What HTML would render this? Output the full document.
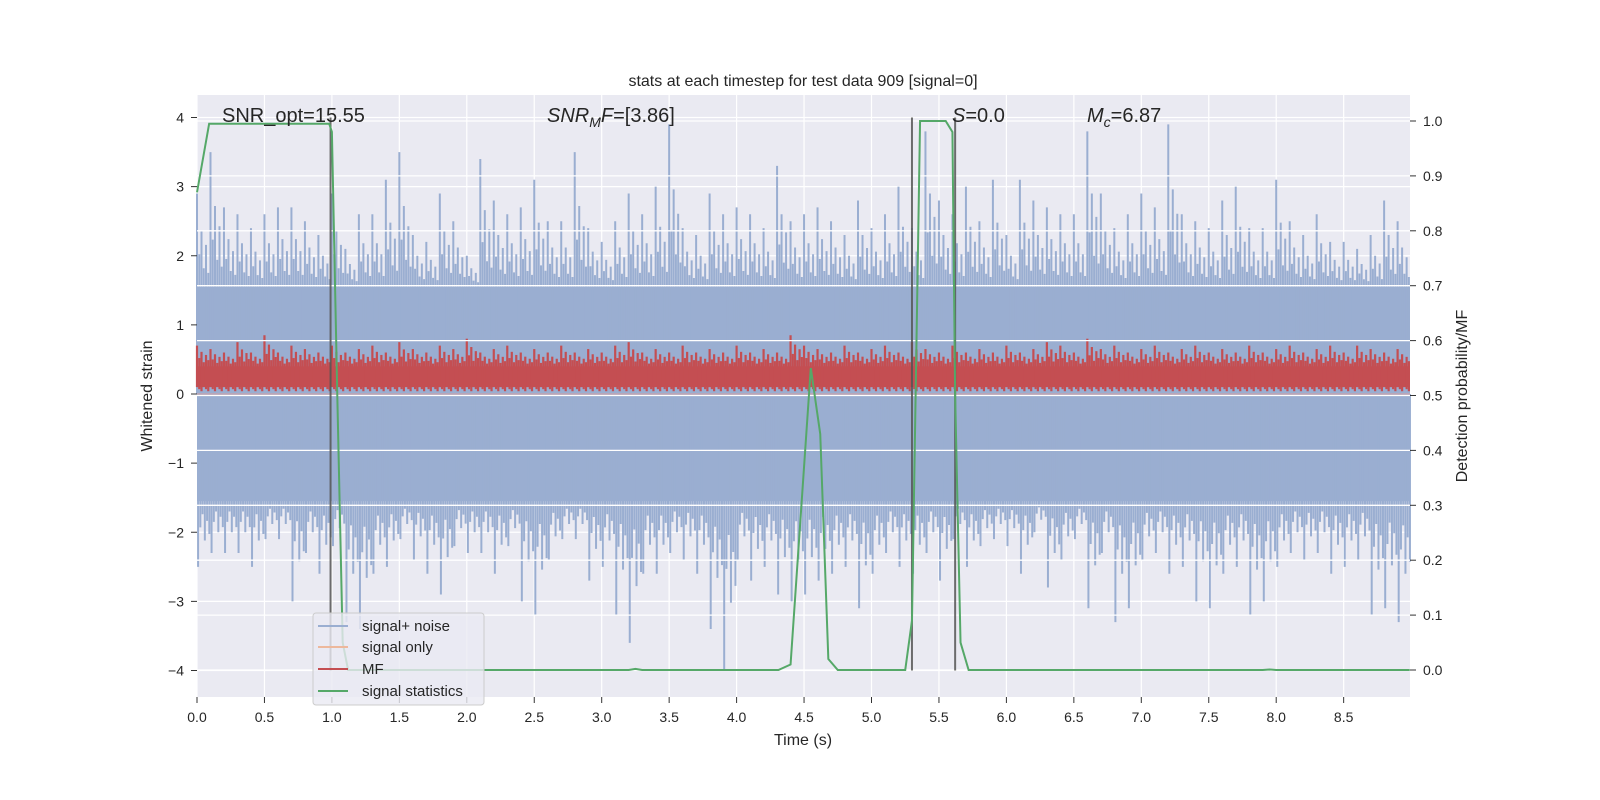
<!DOCTYPE html>
<html><head><meta charset="utf-8"><style>
html,body{margin:0;padding:0;background:#fff;overflow:hidden;}
svg{display:block;width:100vw;height:100vh;font-family:"Liberation Sans","DejaVu Sans",sans-serif;}
</style></head><body>
<svg id="chart" width="1600" height="800" viewBox="0 0 1600 800" preserveAspectRatio="none">
<rect x="0" y="0" width="1600" height="800" fill="#fff"/>
<rect x="197" y="95" width="1213" height="602" fill="#EAEAF2"/>
<g id="grid"></g>
<g id="series"></g>
<g id="grid2"></g>
<g id="overlay"></g>
<g id="axes"></g>
<text x="803" y="86" font-size="16" text-anchor="middle" fill="#262626">stats at each timestep for test data 909 [signal=0]</text>
<text x="222" y="122" font-size="20" fill="#262626">SNR_opt=15.55</text>
<text x="547" y="122" font-size="20" fill="#262626"><tspan font-style="italic">SNR</tspan><tspan font-style="italic" font-size="14" dy="5">M</tspan><tspan font-style="italic" dy="-5">F</tspan>=[3.86]</text>
<text x="952" y="122" font-size="20" fill="#262626"><tspan font-style="italic">S</tspan>=0.0</text>
<text x="1087" y="122" font-size="20" fill="#262626"><tspan font-style="italic">M</tspan><tspan font-style="italic" font-size="14" dy="5">c</tspan><tspan dy="-5">=6.87</tspan></text>
<text x="803" y="745" font-size="16" text-anchor="middle" fill="#262626">Time (s)</text>
<text transform="translate(152,396) rotate(-90)" font-size="16" text-anchor="middle" fill="#262626">Whitened strain</text>
<text transform="translate(1467,396) rotate(-90)" font-size="16" text-anchor="middle" fill="#262626">Detection probability/MF</text>
<g>
<rect x="313" y="613" width="171" height="92" rx="3" fill="#EAEAF2" fill-opacity="0.8" stroke="#ccc"/>
<line x1="318" y1="626" x2="348" y2="626" stroke="#9AAED1" stroke-width="2"/>
<text x="362" y="631" font-size="15" fill="#262626">signal+ noise</text>
<line x1="318" y1="647" x2="348" y2="647" stroke="#EDB89C" stroke-width="2"/>
<text x="362" y="652" font-size="15" fill="#262626">signal only</text>
<line x1="318" y1="669" x2="348" y2="669" stroke="#C44E52" stroke-width="2"/>
<text x="362" y="674" font-size="15" fill="#262626">MF</text>
<line x1="318" y1="691" x2="348" y2="691" stroke="#55A868" stroke-width="2"/>
<text x="362" y="696" font-size="15" fill="#262626">signal statistics</text>
</g>
</svg>
<script>
const xTicks=[0,0.5,1,1.5,2,2.5,3,3.5,4,4.5,5,5.5,6,6.5,7,7.5,8,8.5];
const yTicks=[-4,-3,-2,-1,0,1,2,3,4];
const y2Ticks=[0,0.1,0.2,0.3,0.4,0.5,0.6,0.7,0.8,0.9,1.0];
const noiseUpper=[2.9,3.5,2.7,2.6,2.4,2.6,2.7,2.7,2.5,2.3,2.9,2.1,2.6,2.6,3.1,3.5,2.3,2.2,2.9,2.5,2.0,3.4,2.8,2.6,2.7,3.1,2.5,2.5,3.5,2.4,2.2,2.5,2.9,2.6,3.0,3.9,2.4,2.3,2.9,2.6,2.7,2.6,2.4,3.3,2.5,2.6,2.7,2.5,2.3,2.8,2.4,2.6,3.0,2.4,3.8,2.8,2.6,3.0,2.5,3.1,2.3,3.1,2.8,2.7,2.6,2.6,3.8,2.9,2.4,2.6,2.9,2.7,3.9,2.6,2.5,2.4,2.8,3.0,2.4,2.4,3.1,2.5,2.3,2.6,2.2,2.2,2.1,2.3,2.8,2.5];
const noiseLower=[-2.5,-2.3,-2.3,-2.3,-2.5,-2.1,-2.1,-3.0,-2.3,-2.6,-2.2,-3.3,-3.4,-2.6,-2.5,-2.1,-2.4,-2.6,-2.9,-2.2,-2.3,-2.3,-2.6,-2.2,-3.0,-3.2,-2.4,-2.1,-2.1,-2.7,-2.5,-3.2,-3.6,-2.6,-2.6,-2.3,-2.4,-2.6,-3.4,-4.0,-2.4,-2.7,-2.5,-2.9,-3.0,-2.9,-2.7,-2.6,-2.5,-3.1,-2.6,-2.3,-2.5,-2.6,-2.3,-2.7,-2.1,-2.5,-2.2,-2.1,-2.2,-2.6,-2.0,-2.8,-2.4,-2.1,-3.1,-2.3,-3.3,-3.1,-2.4,-2.3,-2.6,-2.5,-3.0,-3.1,-2.6,-2.5,-3.2,-3.0,-2.5,-2.3,-2.4,-2.3,-2.6,-2.5,-2.4,-3.2,-3.1,-3.3];
const mfPeaks=[0.7,0.65,0.6,0.75,0.6,0.85,0.6,0.7,0.65,0.6,0.7,0.6,0.65,0.7,0.6,0.75,0.65,0.6,0.7,0.65,0.8,0.6,0.65,0.7,0.6,0.65,0.6,0.7,0.6,0.65,0.6,0.7,0.75,0.6,0.65,0.6,0.7,0.6,0.65,0.6,0.7,0.6,0.65,0.6,0.85,0.7,0.65,0.6,0.7,0.6,0.65,0.7,0.6,0.75,0.65,0.6,0.7,0.6,0.65,0.6,0.7,0.6,0.65,0.75,0.7,0.6,0.8,0.65,0.7,0.6,0.65,0.7,0.6,0.65,0.7,0.6,0.65,0.6,0.7,0.6,0.65,0.7,0.6,0.65,0.7,0.6,0.7,0.65,0.6,0.65];
const statT=[0,0.09,0.98,1.0,1.04,1.08,1.12,3.2,3.25,3.3,4.31,4.40,4.55,4.62,4.68,4.75,5.25,5.30,5.36,5.55,5.60,5.62,5.66,5.72,7.9,7.95,8.0,8.99];
const statV=[0.87,0.995,0.995,0.98,0.5,0.05,0,0,0.002,0,0,0.01,0.55,0.43,0.02,0,0,0.09,1.0,1.0,0.98,0.5,0.05,0,0,0.001,0,0];
const markerT=[0.99,5.30,5.62];
const NS='http://www.w3.org/2000/svg';
const X0=197,XPX=134.9,Y0=394,YPX=69.125,Y2B=670,Y2H=549;
const xs=t=>X0+t*XPX, ys=v=>Y0-v*YPX, ys2=v=>Y2B-v*Y2H;
function mk(tag,attrs,parent){const e=document.createElementNS(NS,tag);for(const k in attrs)e.setAttribute(k,attrs[k]);document.getElementById(parent).appendChild(e);return e;}
xTicks.forEach(t=>{const l=mk('line',{x1:xs(t),x2:xs(t),y1:95,y2:697,stroke:'#fff','stroke-width':1.2},'grid');

});
yTicks.forEach(v=>{const l=mk('line',{x1:197,x2:1410,y1:ys(v),y2:ys(v),stroke:'#fff','stroke-width':1.2},'grid');

});
const band=mk('rect',{x:197,y:ys(1.55),width:1213,height:ys(-1.55)-ys(1.55),fill:'#9AAED1'},'series');


const upF=[1,0.35,0.6,0.2,0.45,0.15];
const dnF=[1,0.4,0.2,0.6,0.3,0.5];
noiseUpper.forEach((v,i)=>{const t=i*0.1;
 upF.forEach((f,j)=>{const vv=1.55+(v-1.55)*f;
  const l=mk('line',{x1:xs(t+j*0.0167),x2:xs(t+j*0.0167),y1:ys(0),y2:ys(vv),stroke:'#9AAED1','stroke-width':2},'series');
  
  });});
noiseLower.forEach((v,i)=>{const t=i*0.1+0.008;
 dnF.forEach((f,j)=>{const vv=-1.55+(v+1.55)*f;
  const l=mk('line',{x1:xs(t+j*0.0167),x2:xs(t+j*0.0167),y1:ys(0),y2:ys(vv),stroke:'#9AAED1','stroke-width':2},'series');
  
  });});
const mfb=mk('rect',{x:197,y:ys(0.4),width:1213,height:ys(0.1)-ys(0.4),fill:'#C44E52'},'series');


mk('line',{x1:197,x2:1410,y1:ys(0.0),y2:ys(0.0),stroke:'#b8a6b8','stroke-width':2},'series');
const mfF=[1,0.4,0.7,0.2,0.55,0.3];
mfPeaks.forEach((v,i)=>{mfF.forEach((f,j)=>{const vv=0.4+(v-0.4)*f;const lo=0.1-0.06*((j%3)/2);
 const l=mk('line',{x1:xs(i*0.1+j*0.0167),x2:xs(i*0.1+j*0.0167),y1:ys(lo),y2:ys(vv),stroke:'#C44E52','stroke-width':2.2},'series');
 
 });});
y2Ticks.forEach(v=>{const l=mk('line',{x1:197,x2:1410,y1:ys2(v),y2:ys2(v),stroke:'#fff','stroke-width':1.3},'grid2');

});
markerT.forEach(t=>{const l=mk('line',{x1:xs(t),x2:xs(t),y1:ys(4),y2:ys(-4),stroke:'#555','stroke-width':2,'stroke-opacity':0.85},'overlay');

});
const pts=statT.map((t,i)=>xs(t)+','+ys2(statV[i])).join(' ');
const pl=mk('polyline',{points:pts,fill:'none',stroke:'#55A868','stroke-width':2},'overlay');


xTicks.forEach(t=>{mk('line',{x1:xs(t),x2:xs(t),y1:697,y2:703,stroke:'#333'},'axes');
const tx=mk('text',{x:xs(t),y:722,'font-size':14,'text-anchor':'middle',fill:'#262626'},'axes');tx.textContent=t.toFixed(1);

});
yTicks.forEach(v=>{mk('line',{x1:191,x2:197,y1:ys(v),y2:ys(v),stroke:'#333'},'axes');
const tx=mk('text',{x:184,y:ys(v)+5,'font-size':14,'text-anchor':'end',fill:'#262626'},'axes');tx.textContent=v<0?'\u2212'+(-v):String(v);

});
y2Ticks.forEach(v=>{mk('line',{x1:1410,x2:1416,y1:ys2(v),y2:ys2(v),stroke:'#333'},'axes');
const tx=mk('text',{x:1423,y:ys2(v)+5,'font-size':14,fill:'#262626'},'axes');tx.textContent=v.toFixed(1);

});
</script>
</body></html>
